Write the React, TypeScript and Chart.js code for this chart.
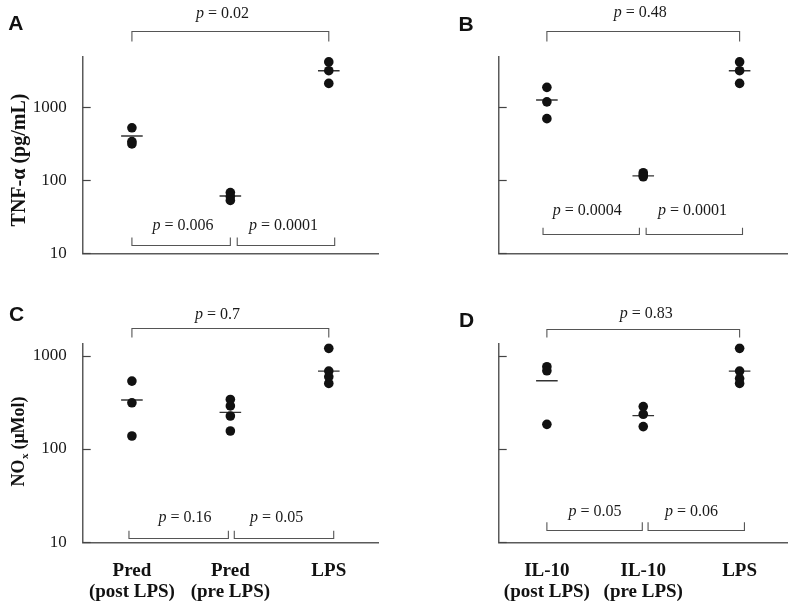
import React, { useEffect, useRef } from "react";
import { Chart, registerables } from "chart.js";

Chart.register(...registerables);

// ---- categories / ticks ----
const predLabels = [["Pred", "(post LPS)"], ["Pred", "(pre LPS)"], ["LPS"]];
const il10Labels = [["IL-10", "(post LPS)"], ["IL-10", "(pre LPS)"], ["LPS"]];
const yTickValues = [10, 100, 1000];

// ---- TNF-alpha (pg/mL) ----
const tnfPredPost = [525, 340, 315];
const tnfPredPre = [68, 60, 53];
const tnfLps = [4200, 3180, 2130];
const tnfPredMeans = [405, 61, 3180];

const tnfIl10Post = [1880, 1190, 700];
const tnfIl10Pre = [127, 118, 112];
const tnfIl10Means = [1260, 115, 3180];

// ---- NOx (uMol) ----
const noxPredPost = [535, 313, 138];
const noxPredPre = [340, 290, 226, 156];
const noxLps = [1200, 685, 595, 505];
const noxPredMeans = [335, 247, 685];

const noxIl10Post = [762, 690, 184];
const noxIl10Pre = [285, 236, 174];
const noxLpsD = [1200, 685, 570, 505];
const noxIl10Means = [540, 228, 685];

// ---- p-values: [outer, left pair, right pair] ----
const pValuesA = ["0.02", "0.006", "0.0001"];
const pValuesB = ["0.48", "0.0004", "0.0001"];
const pValuesC = ["0.7", "0.16", "0.05"];
const pValuesD = ["0.83", "0.05", "0.06"];

const SERIF = '"Liberation Serif", "Times New Roman", serif';
const SANS = '"Liberation Sans", Arial, sans-serif';

type Bracket = {
  from: number;
  to: number;
  side: "top" | "bottom";
  dy: number;
  tick: number;
  textAt: number;
  textDy: number;
};

type PanelCfg = {
  letter: string;
  left: number;
  top: number;
  w: number;
  h: number;
  area: { l: number; r: number; t: number; b: number };
  yMax: number;
  showY: boolean;
  showX: boolean;
  labels: string[][];
  groups: number[][];
  means: number[];
  pvals: string[];
  letterPos: [number, number];
  title: "tnf" | "nox" | null;
  titlePos: [number, number];
  brackets: Bracket[];
};

const panels: PanelCfg[] = [
  {
    letter: "A",
    left: 0,
    top: 0,
    w: 400,
    h: 300,
    area: { l: 82.7, r: 378, t: 57, b: 253.3 },
    yMax: 4900,
    showY: true,
    showX: false,
    labels: predLabels,
    groups: [tnfPredPost, tnfPredPre, tnfLps],
    means: tnfPredMeans,
    pvals: pValuesA,
    letterPos: [15.8, 24.5],
    title: "tnf",
    titlePos: [19.5, 160],
    brackets: [
      { from: 0, to: 2, side: "top", dy: -26.3, tick: 10, textAt: 0.92, textDy: -38.7 },
      { from: 0, to: 1.0, side: "bottom", dy: -8.3, tick: -8, textAt: 0.52, textDy: -23.3 },
      { from: 1.07, to: 2.06, side: "bottom", dy: -8.3, tick: -8, textAt: 1.54, textDy: -23.3 },
    ],
  },
  {
    letter: "B",
    left: 400,
    top: 0,
    w: 400,
    h: 300,
    area: { l: 98.7, r: 395, t: 57, b: 253.3 },
    yMax: 4900,
    showY: false,
    showX: false,
    labels: il10Labels,
    groups: [tnfIl10Post, tnfIl10Pre, tnfLps],
    means: tnfIl10Means,
    pvals: pValuesB,
    letterPos: [66, 25],
    title: null,
    titlePos: [0, 0],
    brackets: [
      { from: 0, to: 2, side: "top", dy: -26.3, tick: 10, textAt: 0.97, textDy: -39.7 },
      { from: -0.04, to: 0.96, side: "bottom", dy: -19.3, tick: -6.7, textAt: 0.42, textDy: -38.3 },
      { from: 1.03, to: 2.03, side: "bottom", dy: -19.3, tick: -6.7, textAt: 1.51, textDy: -38.3 },
    ],
  },
  {
    letter: "C",
    left: 0,
    top: 300,
    w: 400,
    h: 306,
    area: { l: 82.7, r: 378, t: 43.3, b: 242.3 },
    yMax: 1360,
    showY: true,
    showX: true,
    labels: predLabels,
    groups: [noxPredPost, noxPredPre, noxLps],
    means: noxPredMeans,
    pvals: pValuesC,
    letterPos: [16.5, 15.5],
    title: "nox",
    titlePos: [19.5, 141.5],
    brackets: [
      { from: 0, to: 2, side: "top", dy: -15, tick: 9, textAt: 0.87, textDy: -24.3 },
      { from: -0.03, to: 0.98, side: "bottom", dy: -4.6, tick: -7.7, textAt: 0.54, textDy: -20.6 },
      { from: 1.04, to: 2.05, side: "bottom", dy: -4.6, tick: -7.7, textAt: 1.47, textDy: -20.6 },
    ],
  },
  {
    letter: "D",
    left: 400,
    top: 300,
    w: 400,
    h: 306,
    area: { l: 98.7, r: 395, t: 43.3, b: 242.3 },
    yMax: 1360,
    showY: false,
    showX: true,
    labels: il10Labels,
    groups: [noxIl10Post, noxIl10Pre, noxLpsD],
    means: noxIl10Means,
    pvals: pValuesD,
    letterPos: [66.5, 21],
    title: null,
    titlePos: [0, 0],
    brackets: [
      { from: 0, to: 2, side: "top", dy: -14, tick: 8, textAt: 1.03, textDy: -25 },
      { from: 0, to: 0.99, side: "bottom", dy: -12.3, tick: -8.3, textAt: 0.5, textDy: -26.3 },
      { from: 1.05, to: 2.05, side: "bottom", dy: -12.3, tick: -8.3, textAt: 1.5, textDy: -26.3 },
    ],
  },
];

function drawP(ctx: CanvasRenderingContext2D, cx: number, baseline: number, value: string) {
  const italic = `italic 16px ${SERIF}`;
  const normal = `16px ${SERIF}`;
  ctx.font = italic;
  const wp = ctx.measureText("p").width;
  const rest = " = " + value;
  ctx.font = normal;
  const wr = ctx.measureText(rest).width;
  const x0 = cx - (wp + wr) / 2;
  ctx.textAlign = "left";
  ctx.textBaseline = "alphabetic";
  ctx.fillStyle = "#1a1a1a";
  ctx.font = italic;
  ctx.fillText("p", x0, baseline);
  ctx.font = normal;
  ctx.fillText(rest, x0 + wp, baseline);
}

function drawTitle(ctx: CanvasRenderingContext2D, kind: "tnf" | "nox", cx: number, cy: number) {
  ctx.save();
  ctx.translate(cx, cy);
  ctx.rotate(-Math.PI / 2);
  ctx.fillStyle = "#111";
  ctx.textBaseline = "middle";
  ctx.textAlign = "left";
  if (kind === "tnf") {
    ctx.font = `bold 20px ${SERIF}`;
    const t = "TNF-\u03b1 (pg/mL)";
    const w = ctx.measureText(t).width;
    ctx.fillText(t, -w / 2, 0);
  } else {
    const big = `bold 18px ${SERIF}`;
    const small = `bold 11px ${SERIF}`;
    ctx.font = big;
    const w1 = ctx.measureText("NO").width;
    const w3 = ctx.measureText(" (\u03bcMol)").width;
    ctx.font = small;
    const w2 = ctx.measureText("x").width;
    const total = w1 + w2 + w3;
    let x = -total / 2;
    ctx.font = big;
    ctx.fillText("NO", x, 0);
    x += w1;
    ctx.font = small;
    ctx.fillText("x", x + 0.5, 6);
    x += w2;
    ctx.font = big;
    ctx.fillText(" (\u03bcMol)", x, 0);
  }
  ctx.restore();
}

function makeDecor(cfg: PanelCfg) {
  return {
    id: "decor" + cfg.letter,
    afterDraw(chart: any) {
      const ctx: CanvasRenderingContext2D = chart.ctx;
      const xs = chart.scales.x;
      const ys = chart.scales.y;
      const area = chart.chartArea;
      ctx.save();
      // inward tick marks on y axis
      ctx.strokeStyle = "#444";
      ctx.lineWidth = 1.2;
      for (const v of yTickValues) {
        const py = Math.round(ys.getPixelForValue(v)) + 0.5;
        ctx.beginPath();
        ctx.moveTo(area.left, py);
        ctx.lineTo(area.left + 8, py);
        ctx.stroke();
      }
      // brackets + p values
      cfg.brackets.forEach((b, i) => {
        const x1 = xs.getPixelForValue(b.from);
        const x2 = xs.getPixelForValue(b.to);
        const ref = b.side === "top" ? area.top : area.bottom;
        const yLine = Math.round(ref + b.dy) + 0.5;
        const yTick = yLine + b.tick;
        ctx.strokeStyle = "#555";
        ctx.lineWidth = 1.1;
        ctx.beginPath();
        ctx.moveTo(x1, yTick);
        ctx.lineTo(x1, yLine);
        ctx.lineTo(x2, yLine);
        ctx.lineTo(x2, yTick);
        ctx.stroke();
        drawP(ctx, xs.getPixelForValue(b.textAt), ref + b.textDy, cfg.pvals[i]);
      });
      // panel letter
      ctx.fillStyle = "#111";
      ctx.font = `bold 21px ${SANS}`;
      ctx.textAlign = "center";
      ctx.textBaseline = "middle";
      ctx.fillText(cfg.letter, cfg.letterPos[0], cfg.letterPos[1]);
      // y title
      if (cfg.title) drawTitle(ctx, cfg.title, cfg.titlePos[0], cfg.titlePos[1]);
      ctx.restore();
    },
  };
}

function buildConfig(cfg: PanelCfg): any {
  const points: { x: number; y: number }[] = [];
  cfg.groups.forEach((g, i) => g.forEach((v) => points.push({ x: i, y: v })));
  const meanPoints = cfg.means.map((m, i) => ({ x: i, y: m }));
  return {
    type: "scatter",
    data: {
      datasets: [
        {
          data: points,
          pointRadius: 4.8,
          pointHoverRadius: 4.8,
          pointStyle: "circle",
          backgroundColor: "#111",
          borderColor: "#111",
          borderWidth: 0,
        },
        {
          data: meanPoints,
          pointStyle: "line",
          pointRadius: 10.8,
          pointHoverRadius: 10.8,
          borderColor: "#333",
          borderWidth: 1.4,
        },
      ],
    },
    options: {
      animation: false,
      responsive: false,
      events: [],
      layout: {
        padding: { left: 0, top: cfg.area.t, right: cfg.w - cfg.area.r, bottom: 0 },
      },
      plugins: { legend: { display: false }, tooltip: { enabled: false } },
      scales: {
        x: {
          type: "linear",
          min: -0.5,
          max: 2.5,
          grid: { display: false },
          border: { display: true, color: "#5a5a5a", width: 1.5 },
          afterBuildTicks: (s: any) => {
            s.ticks = cfg.labels.map((_, i) => ({ value: i }));
          },
          afterFit: (s: any) => {
            s.height = cfg.h - cfg.area.b;
          },
          ticks: {
            display: cfg.showX,
            autoSkip: false,
            maxRotation: 0,
            minRotation: 0,
            padding: 10,
            color: "#111",
            font: { family: SERIF, size: 19, weight: "bold", lineHeight: 1.12 },
            callback: (v: number) => cfg.labels[Math.round(v)] ?? "",
          },
        },
        y: {
          type: "logarithmic",
          min: 10,
          max: cfg.yMax,
          grid: { display: false },
          border: { display: true, color: "#5a5a5a", width: 1.5 },
          afterBuildTicks: (s: any) => {
            s.ticks = yTickValues.map((v) => ({ value: v }));
          },
          afterFit: (s: any) => {
            s.width = cfg.area.l;
          },
          ticks: {
            display: cfg.showY,
            autoSkip: false,
            padding: 8,
            color: "#1a1a1a",
            font: { family: SERIF, size: 17 },
            callback: (v: number) => String(v),
          },
        },
      },
    },
    plugins: [makeDecor(cfg)],
  };
}

function Panel({ cfg }: { cfg: PanelCfg }) {
  const ref = useRef<HTMLCanvasElement>(null);
  useEffect(() => {
    if (!ref.current) return;
    const chart = new Chart(ref.current, buildConfig(cfg));
    return () => chart.destroy();
  }, [cfg]);
  return (
    <canvas
      ref={ref}
      width={cfg.w}
      height={cfg.h}
      style={{ position: "absolute", left: cfg.left, top: cfg.top, width: cfg.w, height: cfg.h }}
    />
  );
}

export default function App() {
  return (
    <div
      style={{
        position: "absolute",
        left: 0,
        top: 0,
        width: 800,
        height: 606,
        background: "#fff",
        overflow: "hidden",
      }}
    >
      {panels.map((p) => (
        <Panel key={p.letter} cfg={p} />
      ))}
    </div>
  );
}
